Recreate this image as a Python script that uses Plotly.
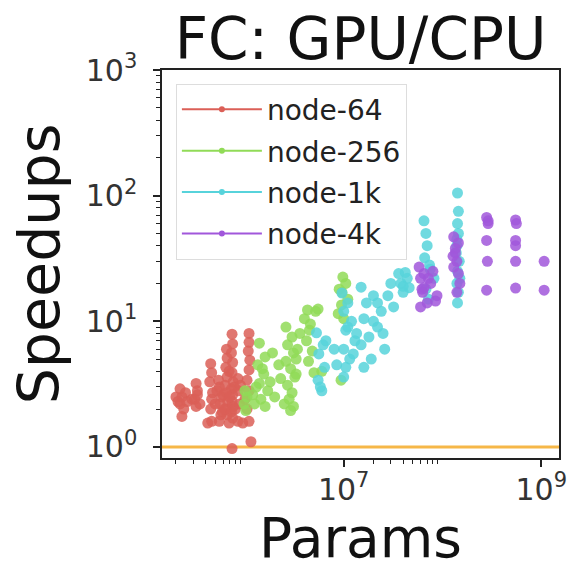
import plotly.graph_objects as go

# ---------------- data ----------------
series_names = ["node-64", "node-256", "node-1k", "node-4k"]
series_colors = ["#db5f57", "#91db57", "#57d3db", "#a157db"]

node64_params = [2.2e5, 2.3e5, 2.2e5, 2.4e5, 2.3e5, 2.1e5, 2.5e5, 2.0e5, 2.6e5,
                 2.9e5, 3.2e5, 3.3e5, 3.1e5, 3.2e5, 3.3e5, 3.5e5,
                 4.5e5, 4.6e5, 4.4e5, 4.7e5, 4.6e5, 4.5e5, 4.6e5, 4.2e5,
                 5.5e5, 5.8e5, 5.6e5, 5.9e5, 5.5e5, 5.2e5, 5.4e5, 5.0e5, 5.7e5,
                 6.5e5, 6.6e5, 6.4e5, 6.6e5, 6.3e5, 6.5e5, 6.7e5, 6.4e5, 6.6e5, 6.0e5, 6.2e5, 6.9e5, 6.9e5,
                 7.4e5, 7.5e5, 7.3e5, 7.5e5, 7.4e5, 7.6e5, 7.3e5, 7.5e5, 7.4e5, 7.6e5, 7.3e5, 7.5e5, 7.4e5,
                 7.0e5, 7.8e5, 8.0e5,
                 8.5e5, 8.6e5, 8.8e5, 8.5e5, 9.0e5, 9.5e5,
                 1.1e6, 1.1e6, 1.08e6, 1.12e6, 1.1e6, 1.05e6, 1.1e6, 1.0e6, 1.05e6, 1.1e6, 1.15e6]
node64_speedup = [2.9, 2.5, 2.2, 2.0, 1.75, 2.3, 2.7, 2.5, 2.3,
                  2.4, 3.2, 2.8, 2.4, 2.1, 2.6, 2.2,
                  4.6, 3.9, 3.3, 2.7, 2.4, 2.0, 1.6, 1.55,
                  3.0, 2.5, 2.2, 1.9, 1.6, 2.8, 3.4, 2.2, 1.8,
                  6.0, 5.1, 4.3, 3.6, 3.1, 2.7, 2.3, 2.0, 1.8, 2.6, 2.0, 1.55, 4.0,
                  7.9, 6.6, 5.6, 4.7, 3.9, 3.3, 2.9, 2.6, 2.3, 2.1, 1.9, 1.7, 0.97,
                  2.5, 3.0, 2.0,
                  3.5, 2.8, 2.2, 1.6, 3.1, 1.55,
                  8.0, 6.8, 5.8, 4.9, 4.1, 3.4, 2.8, 2.4, 2.0, 1.6, 1.1]

node256_params = [1.0e6, 1.05e6, 0.98e6, 1.02e6,
                  1.2e6, 1.25e6, 1.3e6,
                  1.4e6, 1.6e6, 1.35e6, 1.55e6, 1.4e6, 1.7e6, 1.45e6, 1.6e6, 1.5e6, 1.8e6, 1.9e6,
                  2.2e6, 2.3e6, 2.0e6, 2.5e6,
                  2.6e6, 3.0e6, 2.7e6, 3.1e6, 2.6e6, 2.9e6, 3.2e6, 2.7e6, 3.0e6, 2.8e6, 3.1e6, 2.9e6,
                  3.3e6, 3.4e6, 3.3e6, 3.6e6,
                  4.0e6, 4.3e6, 5.2e6, 4.6e6, 4.2e6, 4.8e6, 4.4e6, 5.0e6, 5.5e6, 4.5e6, 6.0e6,
                  9.8e6, 1.05e7, 9.6e6, 9.5e6, 1.0e7, 9.4e6, 9.0e6, 1.1e7, 8.8e6]
node256_speedup = [2.8, 2.5, 2.2, 1.95,
                   2.6, 2.2, 3.0,
                   6.7, 5.2, 4.5, 3.8, 3.2, 2.8, 2.4, 2.1, 4.2, 3.3, 5.6,
                   4.5, 3.5, 2.5, 2.2,
                   9.0, 7.5, 6.5, 5.6, 4.8, 4.2, 3.6, 3.1, 2.7, 2.4, 2.1, 1.95,
                   5.0, 6.0, 3.8, 8.0,
                   10.5, 12.3, 12.0, 9.5, 7.0, 5.8, 4.8, 3.9, 12.5, 8.5, 4.0,
                   22.5, 20.0, 17.0, 13.5, 10.5, 3.4, 18.0, 15.0, 11.5]

node1k_params = [5.3e6, 6.2e6, 5.6e6, 6.4e6, 5.5e6, 6.0e6, 5.8e6, 6.6e6,
                 8.0e6, 8.5e6,
                 9.6e6, 1.1e7, 1.0e7, 1.2e7, 1.05e7, 1.3e7, 1.0e7, 1.15e7, 1.05e7, 1.0e7,
                 1.1e7, 1.25e7, 1.35e7,
                 1.5e7, 2.0e7, 1.7e7, 2.4e7, 1.6e7, 2.2e7, 1.8e7, 2.6e7, 1.9e7, 1.6e7,
                 1.5e7, 2.0e7, 2.2e7, 2.8e7, 3.0e7, 3.2e7, 2.5e7,
                 3.6e7, 4.4e7, 3.8e7, 4.6e7, 4.0e7, 4.2e7, 4.0e7,
                 6.5e7, 7.0e7, 6.6e7, 7.5e7, 8.2e7, 6.8e7, 7.2e7, 6.8e7, 7.4e7,
                 1.42e8, 1.42e8, 1.45e8, 1.4e8, 1.48e8, 1.42e8, 1.4e8, 1.45e8, 1.42e8,
                 1.45e8, 1.4e8, 1.38e8, 1.5e8]
node1k_speedup = [8.1, 6.5, 5.5, 4.3, 3.4, 2.8, 3.0, 7.0,
                  6.0, 4.5,
                  16.8, 14.0, 12.0, 10.0, 8.5, 7.0, 6.0, 5.0, 4.3, 3.6,
                  9.0, 5.5, 8.0,
                  18.7, 16.0, 14.0, 12.0, 10.5, 9.0, 7.5, 6.0, 5.0, 4.3,
                  6.5, 10.0, 14.0, 16.0, 20.0, 13.0, 8.0,
                  24.0, 22.0, 20.0, 18.5, 17.0, 24.5, 19.0,
                  63.0, 40.0, 32.0, 26.0, 22.0, 18.0, 15.0, 50.0, 28.0,
                  105.0, 60.0, 50.0, 40.0, 30.0, 25.0, 20.0, 17.0, 14.0,
                  75.0, 45.0, 35.0, 22.0]

node4k_params = [5.8e7, 6.5e7, 6.0e7, 7.6e7, 6.2e7, 8.8e7, 7.0e7, 6.0e7,
                 6.5e7, 7.2e7, 8.0e7, 8.5e7, 6.3e7,
                 1.3e8, 1.45e8, 1.35e8, 1.4e8, 1.3e8, 1.45e8, 1.4e8,
                 1.35e8, 1.28e8, 1.5e8,
                 2.8e8, 2.9e8, 2.8e8, 2.85e8, 2.8e8, 2.9e8,
                 5.5e8, 5.5e8, 5.5e8, 5.5e8, 5.6e8, 5.5e8,
                 1.07e9, 1.07e9]
node4k_speedup = [27.0, 24.0, 22.0, 20.0, 18.0, 16.0, 14.0, 13.0,
                  18.5, 22.0, 25.0, 14.5, 17.0,
                  47.0, 42.0, 35.0, 30.0, 27.0, 24.0, 17.0,
                  38.0, 33.0, 20.0,
                  67.0, 60.0, 44.0, 30.0, 17.7, 63.0,
                  64.0, 44.0, 30.0, 18.4, 60.0, 40.0,
                  30.0, 17.7]

baseline_speedup = 1.0

x_tick_vals = [1e7, 1e9]
x_tick_text = ["10<sup>7</sup>", "10<sup>9</sup>"]
x_minor_vals = [k * 1e5 for k in range(2, 10)] + [k * 1e7 for k in range(2, 10)]
y_tick_vals = [1, 10, 100, 1000]
y_tick_text = ["10<sup>0</sup>", "10<sup>1</sup>", "10<sup>2</sup>", "10<sup>3</sup>"]
y_minor_vals = [k * 10 ** d for d in range(0, 3) for k in range(2, 10)]

x_title = "Params"
y_title = "Speedups"
chart_title = "FC: GPU/CPU"

# ---------------- figure ----------------
FONT = "DejaVu Sans"
fig = go.Figure()

all_x = [node64_params, node256_params, node1k_params, node4k_params]
all_y = [node64_speedup, node256_speedup, node1k_speedup, node4k_speedup]

for name, color, xs, ys in zip(series_names, series_colors, all_x, all_y):
    fig.add_trace(go.Scatter(
        x=xs, y=ys, mode="markers", showlegend=False, name=name,
        marker=dict(color=color, size=11, opacity=0.85, line=dict(width=0)),
    ))

for i, (name, color) in enumerate(zip(series_names, series_colors)):
    fig.add_trace(go.Scatter(
        x=[None], y=[None], mode="lines+markers", name=name,
        legendgroup=f"g{i}",
        line=dict(color=color, width=2),
        marker=dict(color=color, size=6),
    ))

fig.add_shape(type="line", xref="paper", x0=0, x1=1, yref="y",
              y0=baseline_speedup, y1=baseline_speedup,
              line=dict(color="rgba(245,170,40,0.85)", width=3), layer="below")

fig.add_annotation(text=x_title, xref="paper", yref="paper", x=0.5,
                   y=-(570.5 - 458) / 388,
                   xanchor="center", yanchor="bottom", showarrow=False,
                   borderpad=0,
                   font=dict(size=55, family=FONT, color="#111"))

fig.update_layout(
    width=570, height=570,
    margin=dict(l=162, r=11, t=70, b=112),
    paper_bgcolor="white", plot_bgcolor="white",
    font=dict(family=FONT, color="#222"),
    title=dict(text=chart_title, font=dict(size=58, family=FONT, color="#111"),
               x=0.5, xref="paper", xanchor="center",
               y=1 - 39 / 570, yref="container", yanchor="middle"),
    legend=dict(x=0.035, y=0.965, xanchor="left", yanchor="top",
                bgcolor="rgba(255,255,255,0.8)", bordercolor="#dddddd", borderwidth=1,
                font=dict(size=28, family=FONT, color="#222"),
                tracegroupgap=2, itemwidth=80),
    showlegend=True,
)

fig.update_xaxes(
    type="log", range=[5.16, 9.18], automargin=False,
    tickmode="array", tickvals=x_tick_vals, ticktext=x_tick_text,
    ticks="outside", ticklen=7, tickwidth=1.5, tickcolor="#222",
    tickfont=dict(size=30, family=FONT, color="#333"),
    ticklabelstandoff=-3,
    minor=dict(tickmode="array", tickvals=x_minor_vals, ticks="outside", ticklen=4,
               tickwidth=1, tickcolor="#222", showgrid=False),
    showline=True, linecolor="#222", linewidth=1.5, mirror=True,
    showgrid=False, zeroline=False,
)
fig.update_yaxes(
    type="log", range=[-0.088, 3], automargin=False,
    tickmode="array", tickvals=y_tick_vals, ticktext=y_tick_text,
    ticks="outside", ticklen=7, tickwidth=1.5, tickcolor="#222",
    tickfont=dict(size=30, family=FONT, color="#333"),
    ticklabelstandoff=10,
    minor=dict(tickmode="array", tickvals=y_minor_vals, ticks="outside", ticklen=4,
               tickwidth=1, tickcolor="#222", showgrid=False),
    showline=True, linecolor="#222", linewidth=1.5, mirror=True,
    showgrid=False, zeroline=False,
    title=dict(text=y_title, font=dict(size=57, family=FONT, color="#111"), standoff=8),
)

fig.write_html("out.html")
